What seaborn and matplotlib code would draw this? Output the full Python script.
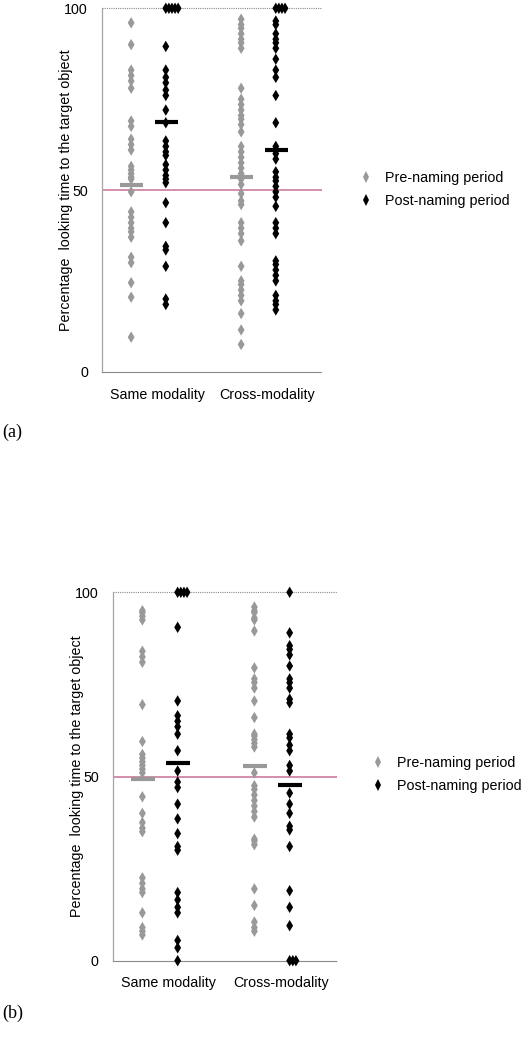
import numpy as np
import pandas as pd

import matplotlib
matplotlib.use('Agg')

import matplotlib.pyplot as plt
import seaborn as sns


# =========================================================
# DATA
# =========================================================

CONDITIONS = ['Same modality', 'Cross-modality']
PERIODS = ['Pre-naming period', 'Post-naming period']

# panel (a)
a_same_pre = [96, 90, 83, 81.5, 80, 78, 69, 67.5, 64, 62.5, 61, 56.5, 55.5,
              54.5, 53.5, 53, 49.5, 44, 42.5, 41, 39.5, 38.5, 37, 31.5, 30,
              24.5, 20.5, 9.5]
a_same_post = [100, 100, 100, 100, 100, 89.5, 83, 81, 79.5, 77.5, 76, 72,
               68.5, 63.5, 62, 60.5, 59.5, 57, 55.5, 54, 53, 52, 46.5, 41,
               34.5, 33.5, 29, 20, 18.5]
a_cross_pre = [97, 95.5, 94.5, 93, 91.5, 90.5, 89, 78, 75, 73.5, 72, 70.5,
               69.5, 68, 66, 62, 60.5, 59, 57.5, 56, 54.5, 53, 51.5, 49, 47,
               46, 41, 39.5, 38, 36, 29, 25, 24, 22.5, 21, 19.5, 16, 11.5,
               7.5]
a_cross_post = [100, 100, 100, 100, 96.5, 95.5, 93, 91.5, 90.5, 89, 86, 83,
                81, 76, 68.5, 62, 60, 58.5, 55, 53.5, 52.5, 51, 49.5, 48,
                45.5, 41, 39.5, 38, 30.5, 29.5, 28, 26.5, 25, 21, 19.5, 18.5,
                17]
a_means = [51.4, 68.8, 53.5, 61.0]

# panel (b)
b_same_pre = [95, 94.5, 93.5, 92.5, 84, 82.5, 81, 69.5, 59.5, 56, 55, 54, 53,
              52, 51, 44.5, 40, 37.5, 36, 35, 22.5, 21, 19.5, 18.5, 13, 9, 8,
              7]
b_same_post = [100, 100, 100, 100, 90.5, 70.5, 66.5, 65, 63.5, 61.5, 57,
               51.5, 48.5, 47, 42.5, 38.5, 34.5, 31, 30, 18.5, 16.5, 14.5, 13,
               5.5, 3.5, 0]
b_cross_pre = [96, 95, 94.5, 93, 92.5, 89.5, 79.5, 76.5, 75.5, 74, 70.5, 66,
               61.5, 61, 60, 59, 58, 51, 47.5, 46.5, 45, 43.5, 42, 40.5, 39,
               33, 32.5, 31.5, 19.5, 15, 10.5, 9, 8]
b_cross_post = [100, 89, 85.5, 84.5, 83, 80, 76.5, 75.5, 74, 71, 70, 61.5,
                60.5, 58.5, 57, 53, 51.5, 45.5, 42.5, 40, 36.5, 35.5, 31, 19,
                14.5, 9.5, 0, 0, 0]
b_means = [49.2, 53.7, 52.9, 47.7]


# =========================================================
# LONG TABLE
# =========================================================

def build_panel(same_pre, same_post, cross_pre, cross_post):
    series = [
        (CONDITIONS[0], PERIODS[0], same_pre),
        (CONDITIONS[0], PERIODS[1], same_post),
        (CONDITIONS[1], PERIODS[0], cross_pre),
        (CONDITIONS[1], PERIODS[1], cross_post),
    ]
    rows = []
    for cond, period, values in series:
        for v in values:
            rows.append({'condition': cond, 'period': period, 'value': v})
    return pd.DataFrame(rows)


panel_a = build_panel(a_same_pre, a_same_post, a_cross_pre, a_cross_post)
panel_b = build_panel(b_same_pre, b_same_post, b_cross_pre, b_cross_post)


# =========================================================
# STYLE
# =========================================================

sns.set_theme(style="white")
plt.rcParams['font.family'] = ['Liberation Sans', 'DejaVu Sans']
plt.rcParams['text.color'] = 'black'
plt.rcParams['axes.labelcolor'] = 'black'
plt.rcParams['xtick.color'] = 'black'
plt.rcParams['ytick.color'] = 'black'

PALETTE = {
    PERIODS[0]: "#999999",
    PERIODS[1]: "#000000"
}

PERIOD_OFFSET = {PERIODS[0]: -0.235, PERIODS[1]: 0.08}
TIE_STEP = 0.028
FONT = 10.3


def place(df):
    # category slot + period dodge + small shift for tied values
    df = df.copy()
    tie_rank = df.groupby(['condition', 'period', 'value']).cumcount()
    df['xpos'] = (
        df['condition'].map({c: i for i, c in enumerate(CONDITIONS)})
        + df['period'].map(PERIOD_OFFSET)
        + tie_rank * TIE_STEP
    )
    return df


def draw_panel(ax, df, means, ytick_pad, xtick_pad, label_x,
               legend_anchor):

    df = place(df)

    ax.axhline(50, color="#cc7a9c", linewidth=1.2, zorder=1)
    ax.axhline(100, color="#8a8a8a", linewidth=0.8,
               linestyle=(0, (1, 1)), zorder=1, clip_on=False)

    sns.scatterplot(
        data=df,
        x='xpos',
        y='value',
        hue='period',
        hue_order=PERIODS,
        palette=PALETTE,
        marker='d',
        s=34,
        linewidth=0,
        clip_on=False,
        zorder=3,
        ax=ax
    )

    # mean bars
    k = 0
    for i, cond in enumerate(CONDITIONS):
        for period in PERIODS:
            centre = i + PERIOD_OFFSET[period] + 0.005
            ax.hlines(
                means[k],
                centre - 0.105,
                centre + 0.105,
                color=PALETTE[period],
                linewidth=3,
                zorder=4
            )
            k += 1

    ax.set_xlim(-0.5, 1.5)
    ax.set_ylim(0, 100)
    ax.set_xticks([0, 1])
    ax.set_xticklabels(CONDITIONS)
    ax.set_yticks([0, 50, 100])
    ax.set_yticklabels(['0', '50', '100'])
    ax.tick_params(axis='y', length=0, pad=ytick_pad, labelsize=FONT)
    ax.tick_params(axis='x', length=0, pad=xtick_pad, labelsize=FONT)
    ax.set_xlabel('')
    ax.set_ylabel(
        'Percentage  looking time to the target object',
        fontsize=FONT
    )
    ax.yaxis.set_label_coords(label_x, 0.5)

    for side in ['top', 'right']:
        ax.spines[side].set_visible(False)
    ax.spines['left'].set_color("#a5a5a5")
    ax.spines['left'].set_linewidth(0.9)
    ax.spines['bottom'].set_color("#8a8a8a")
    ax.spines['bottom'].set_linewidth(0.8)
    ax.spines['bottom'].set_linestyle((0, (1, 1)))

    handles, labels = ax.get_legend_handles_labels()
    ax.legend(
        handles,
        labels,
        loc='upper left',
        bbox_to_anchor=legend_anchor,
        bbox_transform=ax.figure.transFigure,
        frameon=False,
        borderpad=0,
        borderaxespad=0,
        handlelength=1.0,
        handletextpad=0.8,
        labelspacing=0.6,
        fontsize=FONT
    )


# =========================================================
# FIGURE
# =========================================================

W, H = 528, 1050
fig = plt.figure(figsize=(W / 100, H / 100), dpi=100)

ax_a = fig.add_axes([102 / W, 1 - 371.7 / H, 220 / W, 363.4 / H])
ax_b = fig.add_axes([112.7 / W, 1 - 960.7 / H, 224 / W, 368.4 / H])

draw_panel(ax_a, panel_a, a_means, 10, 12, -0.13,
           (359 / W, 1 - 171 / H))
draw_panel(ax_b, panel_b, b_means, 10, 11, -0.13,
           (371 / W, 1 - 756 / H))

fig.text(0.004, 1 - 432 / H, '(a)', va='center', fontsize=13,
         family=['Liberation Serif', 'DejaVu Serif'])
fig.text(0.004, 1 - 1013 / H, '(b)', va='center', fontsize=13,
         family=['Liberation Serif', 'DejaVu Serif'])

fig.savefig('out.png', dpi=100)
plt.close(fig)
